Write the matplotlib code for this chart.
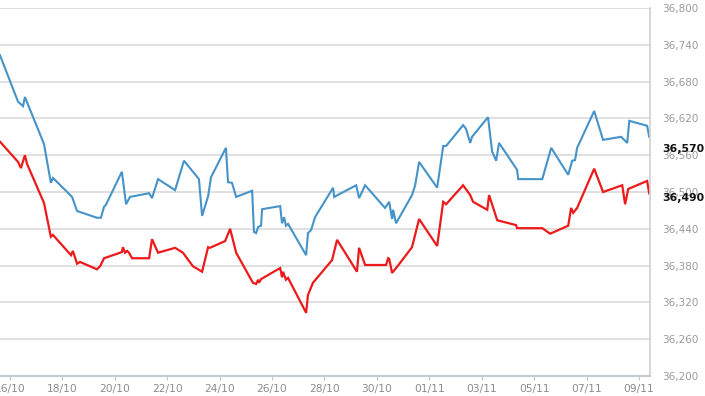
import matplotlib.pyplot as plt
from matplotlib.ticker import FuncFormatter
import matplotlib.transforms as mtransforms

# days counted from 16/10
blue_x = [-0.38, 0.31, 0.50, 0.57, 1.30, 1.56, 1.64, 2.37, 2.56, 3.32, 3.47, 3.59, 3.66,
          4.27, 4.43, 4.58, 5.31, 5.42, 5.65, 6.30, 6.64, 7.21, 7.33, 7.56, 7.67, 8.24,
          8.32, 8.47, 8.63, 9.24, 9.31, 9.39, 9.47, 9.58, 9.62, 10.31, 10.38, 10.46, 10.53,
          10.61, 11.30, 11.37, 11.49, 11.64, 12.33, 12.37, 13.21, 13.32, 13.55, 14.31, 14.47,
          14.58, 14.62, 14.73, 15.34, 15.46, 15.61, 16.30, 16.53, 16.64, 17.29, 17.40, 17.56,
          17.63, 18.24, 18.40, 18.44, 18.55, 18.66, 19.35, 19.39, 20.31, 20.65, 21.30, 21.45,
          21.56, 21.64, 22.29, 22.63, 23.32, 23.55, 23.63, 24.31, 24.39]
blue_y = [36723, 36647, 36640, 36655, 36578, 36515, 36523, 36492, 36469, 36458, 36458, 36476, 36479,
          36533, 36480, 36492, 36498, 36490, 36521, 36503, 36551, 36521, 36461, 36493, 36524, 36572,
          36516, 36515, 36492, 36502, 36435, 36433, 36443, 36445, 36472, 36477, 36449, 36459, 36445,
          36448, 36397, 36433, 36438, 36459, 36507, 36492, 36511, 36490, 36511, 36474, 36484,
          36456, 36471, 36449, 36495, 36511, 36549, 36507, 36575, 36575, 36609, 36603, 36580,
          36590, 36622, 36565, 36562, 36551, 36580, 36536, 36521, 36521, 36572, 36528, 36551,
          36552, 36572, 36632, 36585, 36590, 36580, 36616, 36608, 36590]

red_x = [-0.38, 0.31, 0.42, 0.57, 0.65, 1.30, 1.56, 1.64, 2.33, 2.40, 2.56, 2.67, 3.32, 3.44,
         3.59, 4.27, 4.31, 4.39, 4.47, 4.54, 4.66, 5.31, 5.42, 5.65, 6.30, 6.60, 6.98, 7.33,
         7.56, 7.63, 8.21, 8.40, 8.63, 9.27, 9.39, 9.47, 9.50, 9.58, 10.31, 10.38, 10.42, 10.53,
         10.61, 11.30, 11.37, 11.56, 12.29, 12.48, 13.24, 13.32, 13.55, 14.35, 14.43, 14.47,
         14.58, 14.77, 15.34, 15.61, 16.30, 16.53, 16.64, 17.29, 17.56, 17.67, 18.21, 18.28,
         18.59, 19.31, 19.35, 20.31, 20.61, 21.30, 21.41, 21.49, 21.64, 22.29, 22.63, 23.36,
         23.47, 23.59, 24.31, 24.39]
red_y = [36582, 36549, 36539, 36560, 36546, 36482, 36427, 36430, 36397, 36404, 36383, 36386, 36374, 36379,
         36392, 36402, 36410, 36401, 36404, 36401, 36392, 36392, 36423, 36401, 36409, 36401, 36379, 36370,
         36410, 36409, 36420, 36440, 36401, 36352, 36350, 36357, 36352, 36358, 36376, 36361, 36370, 36357,
         36360, 36303, 36332, 36352, 36389, 36422, 36370, 36409, 36381, 36381, 36392, 36391,
         36368, 36378, 36410, 36456, 36412, 36484, 36480, 36511, 36495, 36484, 36471, 36495,
         36454, 36446, 36441, 36441, 36432, 36445, 36474, 36466, 36474, 36538, 36500, 36511,
         36480, 36505, 36518, 36498]

tick_days = [0, 2, 4, 6, 8, 10, 12, 14, 16, 18, 20, 22, 24]
tick_labels = ['16/10', '18/10', '20/10', '22/10', '24/10', '26/10', '28/10',
               '30/10', '01/11', '03/11', '05/11', '07/11', '09/11']
y_ticks = [36200, 36260, 36320, 36380, 36440, 36500, 36560, 36620, 36680, 36740, 36800]
current_values = [36570, 36490]

fig = plt.figure(figsize=(7.05, 3.96), dpi=100)
ax = fig.add_axes([0, 20 / 396, 650 / 705, 368 / 396])

ax.plot(blue_x, blue_y, color='#4593c9', linewidth=1.5, solid_joinstyle='miter')
ax.plot(red_x, red_y, color='#ec1a1a', linewidth=1.6, solid_joinstyle='miter')

ax.set_xlim(-0.38, 24.42)
ax.set_ylim(36200, 36800)

ax.set_yticks(y_ticks)
ax.yaxis.tick_right()
ax.yaxis.set_major_formatter(FuncFormatter(lambda v, p: f'{int(v):,}'))
ax.tick_params(axis='y', length=0, pad=9, labelsize=7.5, labelcolor='#9a9a9a')

ax.set_xticks(tick_days)
ax.set_xticklabels(tick_labels)
ax.tick_params(axis='x', length=3, color='#c0c6d0', pad=3, labelsize=7.7, labelcolor='#8c8c8c')

ax.grid(True, axis='y', color='#dddddd', linewidth=1.3)
ax.set_axisbelow(True)

for side in ['top', 'left']:
    ax.spines[side].set_visible(False)
ax.spines['right'].set_color('#d0d0d0')
ax.spines['right'].set_linewidth(1.2)
ax.spines['bottom'].set_color('#c4cad4')
ax.spines['bottom'].set_linewidth(1.5)

# current values, drawn over the axis labels
trans = mtransforms.blended_transform_factory(ax.transAxes, ax.transData)
for v in current_values:
    ax.text(1.0 + 12 / 650, v, f'{v:,}', transform=trans, ha='left', va='center',
            fontsize=7.8, color='#111111', fontweight='bold')

fig.savefig('out.png', dpi=100)
